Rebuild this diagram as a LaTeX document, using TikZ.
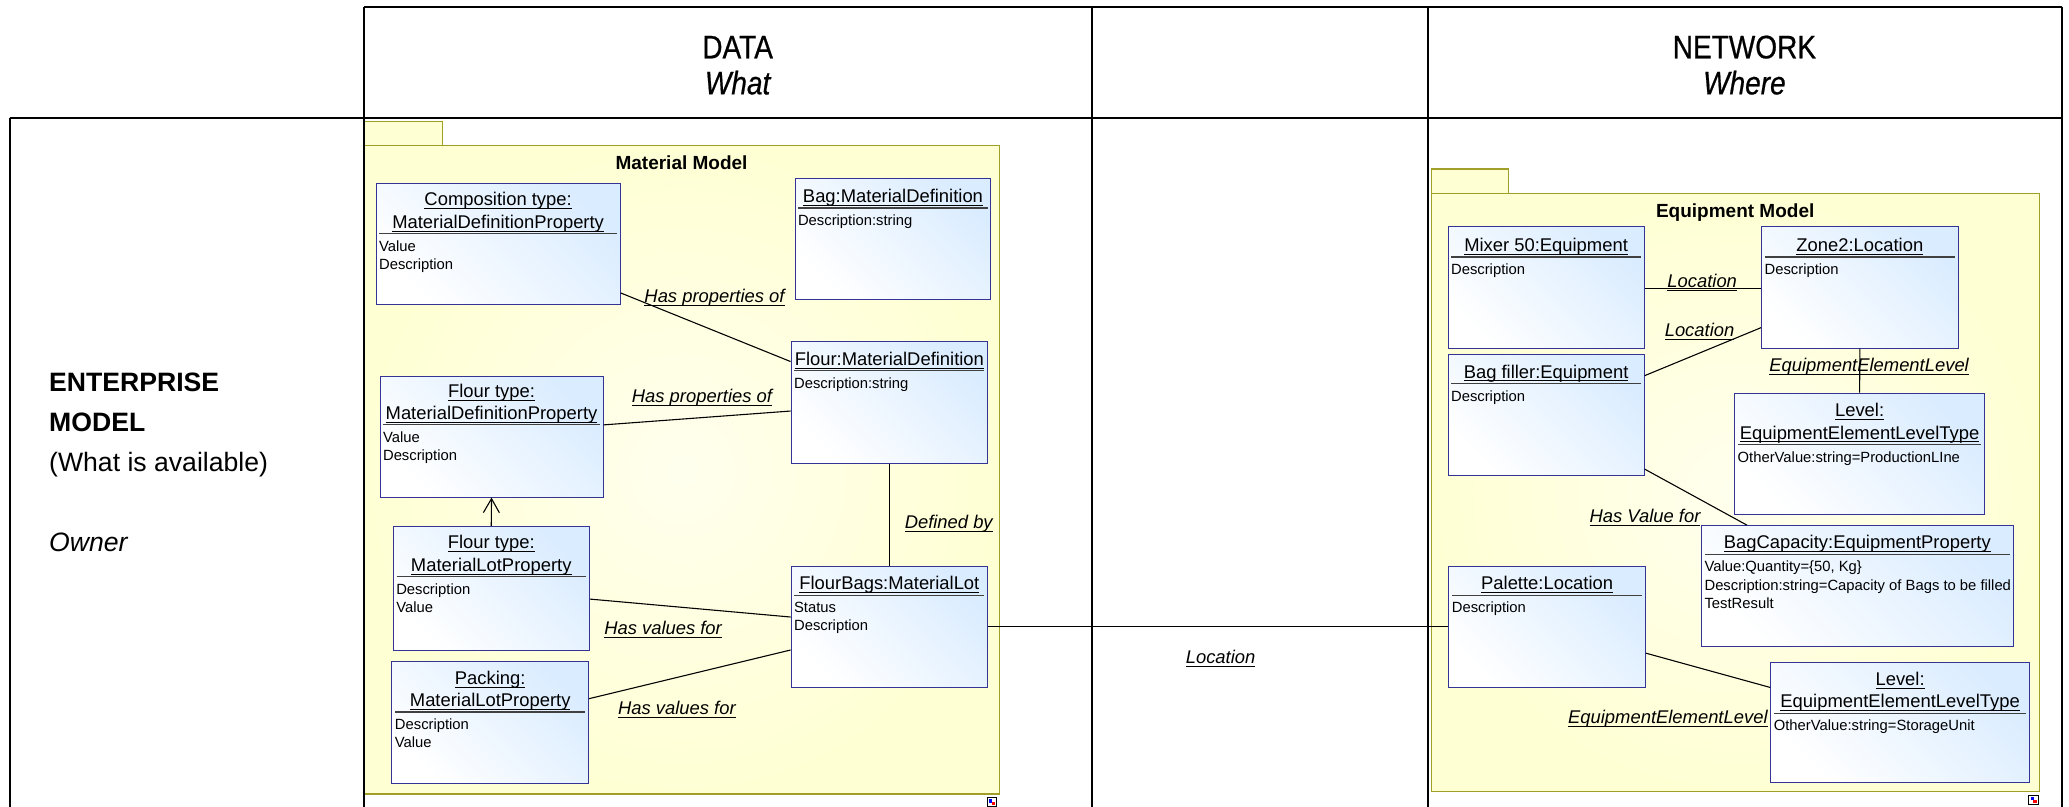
\documentclass[tikz,border=0pt]{standalone}
\usepackage{fontspec}
\setmainfont{Liberation Sans}
\newfontfamily\narrowfont[FakeStretch=0.86,FakeBold=0.6]{Liberation Sans}
\usetikzlibrary{fit,arrows.meta}
\definecolor{boxblue}{RGB}{218,236,255}
\definecolor{boxline}{RGB}{52,52,150}
\definecolor{pkgfill}{RGB}{255,255,212}
\definecolor{pkgline}{RGB}{160,160,40}
\newcommand\myul[1]{\underline{\smash{#1}}}
\tikzset{
  umlbox/.style={draw=boxline, line width=0.5pt, inner sep=0pt,
    top color=boxblue, bottom color=white, shading angle=-45},
  utitle/.style={anchor=base, inner sep=0pt, font=\fontsize{9.2}{11}\selectfont},
  uattr/.style={anchor=north west, inner sep=0pt, align=left, font=\fontsize{7.4}{9.1}\selectfont},
  usep/.style={draw=black!75, line width=0.55pt},
  pkg/.style={draw=pkgline, line width=0.7pt, inner sep=0pt, inner color=white!60!pkgfill, outer color=pkgfill},
  pkgtab/.style={draw=pkgline, line width=0.7pt, inner sep=0pt, fill=pkgfill},
  pkgtitle/.style={anchor=base, inner sep=0pt, font=\bfseries\fontsize{9.5}{11}\selectfont},
  tableline/.style={draw=black, line width=1.1pt},
  conn/.style={draw=black, line width=0.55pt},
  clabel/.style={anchor=base, inner sep=0pt, font=\itshape\fontsize{9.2}{11}\selectfont},
  headtext/.style={anchor=base, inner sep=0pt, font=\narrowfont\fontsize{16.3}{19}\selectfont},
  lefttext/.style={anchor=base west, inner sep=0pt, font=\fontsize{13.3}{16}\selectfont},
}
% #1 name, #2 x1, #3 y1, #4 x2, #5 y2, #6 title line 1, #7 title line 2, #8 separator offset, #9 attributes
\newcommand\umlbox[9]{%
  \node[umlbox, fit={(#2,#3) (#4,#5)}] (#1) {};
  \if\relax\detokenize{#7}\relax
    \node[utitle] (#1-t) at ({(#2+#4)/2}, #3+#8-4) {\myul{#6}};
  \else
    \node[utitle] (#1-t) at ({(#2+#4)/2}, #3+#8-21) {\myul{#6}};
    \node[utitle] (#1-u) at ({(#2+#4)/2}, #3+#8-4) {\myul{#7}};
  \fi
  \draw[usep] (#2+2.5, #3+#8) -- (#4-2.5, #3+#8);
  \node[uattr] (#1-a) at (#2+2, #3+#8+5) {#9};
}
\begin{document}
\begin{tikzpicture}[x=0.65975pt, y=-0.65975pt]
\useasboundingbox (0,0) rectangle (1568,611);

% packages
\node[pkgtab, fit={(276.4,92.2) (335.4,110.4)}] (mtab) {};
\node[pkg, fit={(276.4,110.4) (757.5,601.8)}] (mpkg) {};
\node[pkgtitle] (mtitle) at (516.5,128.5) {Material Model};
\node[pkgtab, fit={(1085,128) (1143,146.5)}] (etab) {};
\node[pkg, fit={(1085,146.5) (1545.7,600)}] (epkg) {};
\node[pkgtitle] (etitle) at (1315,165) {Equipment Model};

% table
\draw[tableline] (276,5.2) -- (1562.5,5.2);
\draw[tableline] (7.5,89.3) -- (1562.5,89.3);
\draw[tableline] (7.5,89.3) -- (7.5,612);
\draw[tableline] (276,5.2) -- (276,612);
\draw[tableline] (827.3,5.2) -- (827.3,612);
\draw[tableline] (1082,5.2) -- (1082,612);
\draw[tableline] (1562.5,5.2) -- (1562.5,612);

% headers
\node[headtext] (hdata) at (559,44.2) {DATA};
\node[headtext, font=\narrowfont\itshape\fontsize{16.3}{19}\selectfont] (hwhat) at (559,71.5) {What};
\node[headtext] (hnet) at (1322,44.2) {NETWORK};
\node[headtext, font=\narrowfont\itshape\fontsize{16.3}{19}\selectfont] (hwhere) at (1322,71.5) {Where};

% left column
\node[lefttext, font=\bfseries\fontsize{13.3}{16}\selectfont] (ent1) at (37,296.8) {ENTERPRISE};
\node[lefttext, font=\bfseries\fontsize{13.3}{16}\selectfont] (ent2) at (37,327) {MODEL};
\node[lefttext] (ent3) at (37,357.5) {(What is available)};
\node[lefttext, font=\itshape\fontsize{13.3}{16}\selectfont] (ent4) at (37,418) {Owner};

% material model boxes
\umlbox{comp}{285}{139}{470}{230.5}{Composition type:}{MaterialDefinitionProperty}{38}{Value\\Description}
\umlbox{bag}{602.5}{135}{751}{226.6}{Bag:MaterialDefinition}{}{22.6}{Description:string}
\umlbox{flourmd}{599.5}{259}{748.5}{351}{Flour:MaterialDefinition}{}{22}{Description:string}
\umlbox{ftmdp}{288}{285}{457}{376.7}{Flour type:}{MaterialDefinitionProperty}{37}{Value\\Description}
\umlbox{ftmlp}{298}{399}{446.6}{493}{Flour type:}{MaterialLotProperty}{38}{Description\\Value}
\umlbox{packing}{297}{501}{446}{594}{Packing:}{MaterialLotProperty}{38.6}{Description\\Value}
\umlbox{flourbags}{599.5}{429}{748.5}{520.7}{FlourBags:MaterialLot}{}{22}{Status\\Description}

% equipment model boxes
\umlbox{mixer}{1097.4}{172}{1246}{263.8}{Mixer 50:Equipment}{}{22.8}{Description}
\umlbox{zone}{1335}{172}{1484}{263.8}{Zone2:Location}{}{22.8}{Description}
\umlbox{bagfiller}{1097.4}{268.3}{1246}{360}{Bag filler:Equipment}{}{22.2}{Description}
\umlbox{levela}{1314.6}{298}{1504}{389.8}{Level:}{EquipmentElementLevelType}{38.7}{OtherValue:string=ProductionLIne}
\umlbox{bagcap}{1289.5}{398.4}{1525.6}{489.6}{BagCapacity:EquipmentProperty}{}{21.6}{Value:Quantity=\{50, Kg\}\\Description:string=Capacity of Bags to be filled\\TestResult}
\umlbox{palette}{1098}{429}{1247}{520.7}{Palette:Location}{}{22}{Description}
\umlbox{levelb}{1342}{502}{1538}{593}{Level:}{EquipmentElementLevelType}{38.4}{OtherValue:string=StorageUnit}

% connectors (material)
\draw[conn] (comp.east |- 0,222) -- (flourmd.west |- 0,274);
\draw[conn] (ftmdp.east |- 0,322) -- (flourmd.west |- 0,311.5);
\draw[conn, -{Straight Barb[length=7pt,width=8pt]}] (ftmlp.north) -- (ftmdp.south);
\draw[conn] (flourmd.south) -- (flourbags.north);
\draw[conn] (ftmlp.east |- 0,454) -- (flourbags.west |- 0,467.6);
\draw[conn] (packing.east |- 0,529.5) -- (flourbags.west |- 0,492.6);
\draw[conn] (flourbags.east |- 0,475) -- (palette.west |- 0,475);

% connectors (equipment)
\draw[conn] (mixer.east |- 0,218.5) -- (zone.west |- 0,218.5);
\draw[conn] (bagfiller.east |- 0,284.7) -- (zone.west |- 0,248.3);
\draw[conn] (zone.south) -- (levela.north);
\draw[conn] (bagfiller.east |- 0,355.5) -- (bagcap.north -| 1324,0);
\draw[conn] (palette.east |- 0,495) -- (levelb.west |- 0,521);

% connector labels
\node[clabel] (l1) at (541.5,229) {\myul{Has properties of}};
\node[clabel] (l2) at (532,305) {\myul{Has properties of}};
\node[clabel] (l3) at (719,400.6) {\myul{Defined by}};
\node[clabel] (l4) at (502.5,480.7) {\myul{Has values for}};
\node[clabel] (l5) at (513,541.6) {\myul{Has values for}};
\node[clabel] (l6) at (925,502.7) {\myul{Location}};
\node[clabel] (l7) at (1290,218) {\myul{Location}};
\node[clabel] (l8) at (1288,255.3) {\myul{Location}};
\node[clabel] (l9) at (1416.5,281.6) {\myul{EquipmentElementLevel}};
\node[clabel] (l10) at (1246.7,396) {\myul{Has Value for}};
\node[clabel] (l11) at (1264,548) {\myul{EquipmentElementLevel}};

% resize icons
\draw[line width=0.5pt, fill=white] (748,604.5) rectangle (755,611);
\fill[blue] (749.3,605.8) rectangle (751.8,608.3);
\fill[red] (751.5,608) rectangle (753.8,610.2);
\draw[line width=0.5pt, fill=white] (1537.5,602.5) rectangle (1545,610);
\fill[blue] (1538.8,603.8) rectangle (1541.3,606.3);
\fill[red] (1541,606) rectangle (1543.6,608.6);
\end{tikzpicture}
\end{document}
